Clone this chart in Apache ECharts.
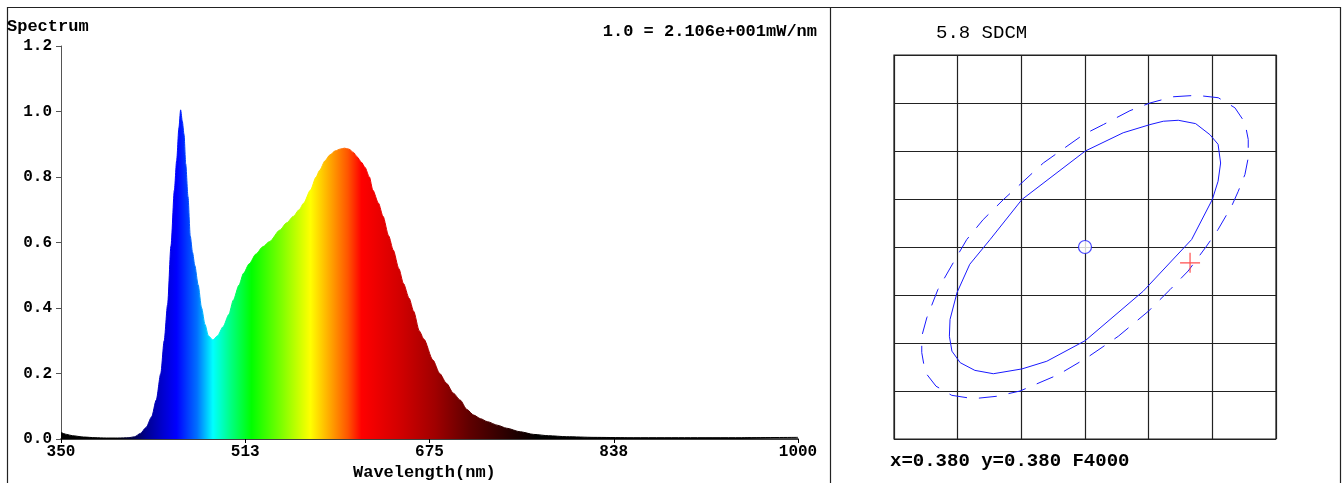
<!DOCTYPE html>
<html>
<head>
<meta charset="utf-8">
<script src="https://cdn.jsdelivr.net/npm/echarts@6/dist/echarts.min.js"></script>
<style>
  html, body { margin: 0; padding: 0; background: #fff; }
  #main { width: 1343px; height: 483px; }
</style>
</head>
<body>
<div id="main"></div>
<script>
// spectrum (nm, relative power)
var wavelengths = [350, 355, 360, 370, 380, 390, 400, 410, 415, 420, 425, 430, 434, 438, 441, 444, 447, 450, 452, 454, 455.5,
    457, 458.5, 460, 462, 464, 466, 468, 471, 474, 477, 480, 484, 488, 493, 498, 502, 507, 511, 516, 522, 528, 534,
    543, 549, 555, 560, 564, 570, 575, 578, 583, 587, 592, 596, 600, 604, 608, 611, 615, 618, 622, 625, 630, 634,
    639, 643, 648, 652, 657, 661, 666, 670, 678, 684, 690, 696, 702, 708, 714, 720, 726, 735, 743, 755, 767, 780,
    796, 820, 850, 900, 950, 1000];
var power = [0.020, 0.014, 0.010, 0.006, 0.004, 0.003, 0.003, 0.004, 0.007, 0.017, 0.035, 0.068, 0.119, 0.200, 0.300, 0.410, 0.590, 0.760, 0.850, 0.950, 1.005,
    0.970, 0.930, 0.840, 0.740, 0.620, 0.570, 0.530, 0.470, 0.400, 0.350, 0.315, 0.302, 0.315, 0.343, 0.380, 0.424, 0.470, 0.506, 0.535, 0.565, 0.587, 0.603,
    0.638, 0.660, 0.680, 0.700, 0.720, 0.760, 0.800, 0.820, 0.850, 0.867, 0.880, 0.885, 0.888, 0.885, 0.875, 0.862, 0.845, 0.830, 0.800, 0.760, 0.720, 0.680,
    0.620, 0.577, 0.520, 0.475, 0.430, 0.390, 0.330, 0.305, 0.241, 0.200, 0.170, 0.140, 0.119, 0.090, 0.073, 0.062, 0.053, 0.042, 0.033, 0.022, 0.014, 0.010,
    0.007, 0.005, 0.004, 0.004, 0.004, 0.005];
var xTicks = [350, 512.5, 675, 837.5, 1000];

// colour of the fill at a given wavelength
var rainbowNm = [350, 400, 410, 425, 440, 452, 470, 484, 500, 518, 545, 570, 590, 603, 615, 650, 680, 710, 740, 770, 1000];
var rainbowColor = ['#000000', '#000000', '#000030', '#000090', '#0000d0', '#0000ff', '#0070ff', '#00ffff', '#00ff80', '#00ff00',
    '#80ff00', '#ffff00', '#ff9900', '#ff5500', '#ff0000', '#d00000', '#a00000', '#600000', '#300000', '#000000', '#000000'];

// chromaticity panel, grid units (centre = 0,0)
var ellipseX = [1.465, 1.738, 1.962, 2.09, 2.13, 2.09, 2.00, 1.675, 0.915, 0.005, -0.60, -0.99, -1.44, -1.73, -1.96, -2.09, -2.13, -2.12, -2.01, -1.81, -1.49, -0.99, 0.005, 0.60, 1.02, 1.23, 1.465];
var ellipseY = [2.64, 2.57, 2.34, 2.14, 1.75, 1.37, 0.99, 0.156, -0.92, -1.95, -2.38, -2.54, -2.64, -2.57, -2.41, -2.17, -1.86, -1.51, -0.95, -0.36, 0.156, 0.99, 2.00, 2.38, 2.55, 2.62, 2.64];
var outerX = [1.386, 1.754, 2.093, 2.355, 2.512, 2.564, 2.564, 2.512, 2.407, 2.303, 2.088, 1.91, 1.62, 1.334, 0.994, 0.523, 0.027, -0.42, -1.02, -1.386, -1.754, -2.093, -2.34, -2.51, -2.564, -2.564, -2.485, -2.31, -2.01, -1.857, -1.60, -1.28, -0.99, -0.655, -0.027, 0.287, 0.706, 1.02, 1.386];
var outerY = [3.13, 3.16, 3.11, 2.90, 2.59, 2.24, 1.86, 1.51, 1.16, 0.85, 0.36, 0.02, -0.50, -0.89, -1.34, -1.86, -2.31, -2.66, -3.00, -3.11, -3.16, -3.09, -2.90, -2.61, -2.20, -1.86, -1.475, -0.885, -0.19, 0.156, 0.57, 0.99, 1.34, 1.75, 2.34, 2.55, 2.84, 3.00, 3.13];
var target = [0, 0];
var measured = [1.65, -0.33];

var chart = echarts.init(document.getElementById('main'));

function pairs(xs, ys) {
    var out = [];
    for (var i = 0; i < xs.length; i++) out.push([xs[i], ys[i]]);
    return out;
}

var stops = [];
for (var i = 0; i < rainbowNm.length; i++) {
    stops.push({ offset: (rainbowNm[i] - 350) / 650, color: rainbowColor[i] });
}
var rainbow = new echarts.graphic.LinearGradient(0, 0, 1, 0, stops);

var mono = '"Liberation Mono", "DejaVu Sans Mono", monospace';

var option = {
    animation: false,
    backgroundColor: '#fff',
    grid: [
        { left: 61, top: 46, width: 737, height: 393 },
        { left: 894, top: 55, width: 382, height: 384, show: true, borderColor: '#222', borderWidth: 1.2 }
    ],
    xAxis: [{
        gridIndex: 0,
        type: 'value',
        min: 350,
        max: 1000,
        axisLine: { lineStyle: { color: '#000', width: 1.5 } },
        axisTick: { length: 4, lineStyle: { color: '#000' }, customValues: xTicks },
        axisLabel: {
            customValues: xTicks,
            margin: 5,
            color: '#000',
            fontFamily: mono,
            fontWeight: 'bold',
            fontSize: 16,
            formatter: function (v) { return String(Math.round(v)); }
        },
        splitLine: { show: false }
    }, {
        gridIndex: 1,
        type: 'value',
        min: -3,
        max: 3,
        interval: 1,
        axisLine: { show: false },
        axisTick: { show: false },
        axisLabel: { show: false },
        splitLine: { lineStyle: { color: '#222', width: 1.2 } }
    }],
    yAxis: [{
        gridIndex: 0,
        type: 'value',
        min: 0,
        max: 1.2,
        interval: 0.2,
        axisLine: { show: true, lineStyle: { color: '#555', width: 1 } },
        axisTick: { show: true, length: 5, lineStyle: { color: '#555' } },
        axisLabel: {
            margin: 9,
            color: '#000',
            fontFamily: mono,
            fontWeight: 'bold',
            fontSize: 16,
            formatter: function (v) { return v.toFixed(1); }
        },
        splitLine: { show: false }
    }, {
        gridIndex: 1,
        type: 'value',
        min: -4,
        max: 4,
        interval: 1,
        axisLine: { show: false },
        axisTick: { show: false },
        axisLabel: { show: false },
        splitLine: { lineStyle: { color: '#222', width: 1.2 } }
    }],
    series: [{
        name: 'Spectrum',
        type: 'line',
        xAxisIndex: 0,
        yAxisIndex: 0,
        data: pairs(wavelengths, power),
        showSymbol: false,
        smooth: 0.25,
        smoothMonotone: 'x',
        lineStyle: { color: rainbow, width: 1 },
        areaStyle: { color: rainbow, opacity: 1 },
        z: 1
    }, {
        name: 'outer',
        type: 'line',
        xAxisIndex: 1,
        yAxisIndex: 1,
        data: pairs(outerX, outerY),
        showSymbol: false,
        lineStyle: { color: '#1a1aff', width: 1, type: [18, 12] }
    }, {
        name: 'ellipse',
        type: 'line',
        xAxisIndex: 1,
        yAxisIndex: 1,
        data: pairs(ellipseX, ellipseY),
        showSymbol: false,
        lineStyle: { color: '#1a1aff', width: 1 }
    }, {
        name: 'target',
        type: 'scatter',
        xAxisIndex: 1,
        yAxisIndex: 1,
        data: [target],
        symbol: 'circle',
        symbolSize: 13,
        itemStyle: { color: '#fff', borderColor: '#1a1aff', borderWidth: 1.2 },
        z: 5
    }, {
        name: 'measured',
        type: 'scatter',
        xAxisIndex: 1,
        yAxisIndex: 1,
        data: [measured],
        symbol: 'path://M0,9.4H20V10.6H0Z M9.4,0H10.6V20H9.4Z',
        symbolSize: 20,
        itemStyle: { color: '#ff3030', opacity: 0.85 },
        z: 6
    }],
    graphic: [
        { type: 'rect', shape: { x: 7.5, y: 7.5, width: 1333, height: 490 }, style: { fill: null, stroke: '#222', lineWidth: 1.2 }, silent: true },
        { type: 'line', shape: { x1: 830.5, y1: 7, x2: 830.5, y2: 483 }, style: { stroke: '#222', lineWidth: 1.2 }, silent: true },
        { type: 'text', left: 7, top: 18, style: { text: 'Spectrum', font: 'bold 17px ' + mono, fill: '#000' } },
        { type: 'text', right: 1343 - 817, top: 23, style: { text: '1.0 = 2.106e+001mW/nm', font: 'bold 17px ' + mono, fill: '#000' } },
        { type: 'text', left: 353, top: 464, style: { text: 'Wavelength(nm)', font: 'bold 17px ' + mono, fill: '#000' } },
        { type: 'text', left: 936, top: 23, style: { text: '5.8 SDCM', font: '19px ' + mono, fill: '#000' } },
        { type: 'text', left: 890, top: 452, style: { text: 'x=0.380 y=0.380 F4000', font: 'bold 19px ' + mono, fill: '#000' } }
    ]
};

chart.setOption(option);
</script>
</body>
</html>
